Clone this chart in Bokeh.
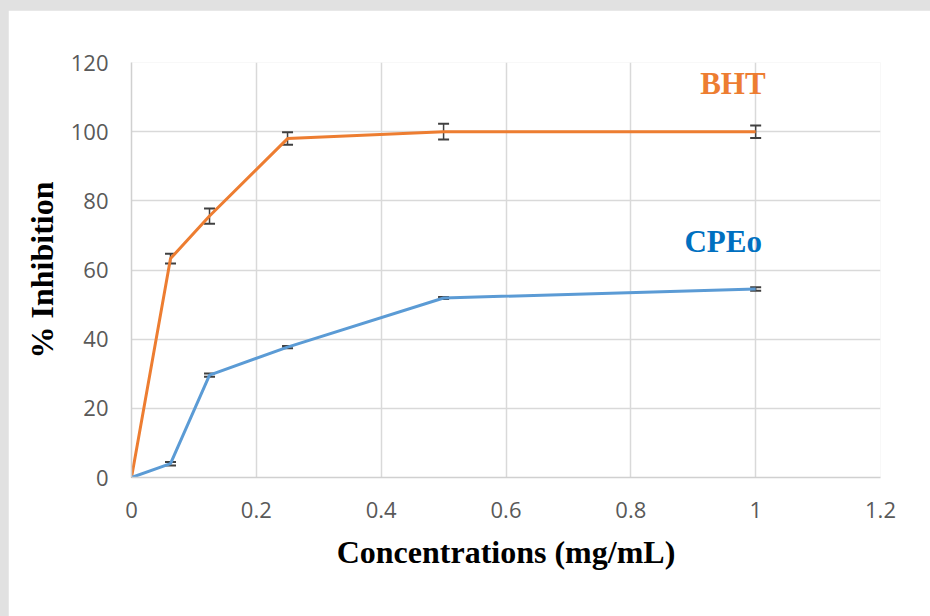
from bokeh.plotting import figure
from bokeh.models import ColumnDataSource, Whisker, FixedTicker, TeeHead, Range1d
from bokeh.core.properties import value
from bokeh.embed import file_html
from bokeh.resources import INLINE

conc = [0, 0.0625, 0.125, 0.25, 0.5, 1.0]
bht = [0, 63.3, 75.6, 98.0, 100.0, 100.0]
bht_err = [0, 1.4, 2.2, 1.8, 2.3, 1.8]
cpeo = [0, 4.0, 29.6, 37.7, 51.9, 54.5]
cpeo_err = [0, 0.5, 0.5, 0.3, 0.3, 0.5]
x_ticks = [0, 0.2, 0.4, 0.6, 0.8, 1.0, 1.2]
x_tick_labels = ["0", "0.2", "0.4", "0.6", "0.8", "1", "1.2"]
y_ticks = [0, 20, 40, 60, 80, 100, 120]

ORANGE = "#ED7D31"
BLUE = "#5B9BD5"
LABEL_BLUE = "#0070C0"

p = figure(width=922, height=606, output_backend="svg", toolbar_location=None,
           x_range=Range1d(0, 1.2), y_range=Range1d(0, 120),
           min_border_left=123, min_border_right=50, min_border_top=52, min_border_bottom=139)
p.outline_line_color = None
p.background_fill_color = "white"
p.border_fill_color = "white"

p.xaxis.ticker = FixedTicker(ticks=x_ticks)
p.yaxis.ticker = FixedTicker(ticks=y_ticks)
p.xaxis.major_label_overrides = {t: l for t, l in zip(x_ticks, x_tick_labels)}
for ax in (p.xaxis, p.yaxis):
    ax.axis_line_color = "#d0d0d0"
    ax.axis_line_width = 1.5
    ax.major_tick_line_color = None
    ax.minor_tick_line_color = None
    ax.major_label_text_color = "#595959"
    ax.major_label_text_font = "Open Sans"
    ax.major_label_text_font_size = "22px"
    ax.axis_label_text_font = "Liberation Serif"
    ax.axis_label_text_font_style = "bold"
    ax.axis_label_text_font_size = "32px"
    ax.axis_label_text_color = "black"
p.xaxis.major_label_standoff = 18
p.yaxis.major_label_standoff = 17
p.xaxis.axis_label = "Concentrations (mg/mL)"
p.yaxis.axis_label = "% Inhibition"
p.xaxis.axis_label_standoff = 13
p.yaxis.axis_label_standoff = 8

p.xgrid.ticker = FixedTicker(ticks=x_ticks)
p.ygrid.ticker = FixedTicker(ticks=y_ticks)
for g in (p.xgrid, p.ygrid):
    g.grid_line_color = "#d9d9d9"
    g.grid_line_width = 1.5

src_b = ColumnDataSource(dict(x=conc, y=bht,
                              lo=[v - e for v, e in zip(bht, bht_err)],
                              hi=[v + e for v, e in zip(bht, bht_err)]))
src_c = ColumnDataSource(dict(x=conc, y=cpeo,
                              lo=[v - e for v, e in zip(cpeo, cpeo_err)],
                              hi=[v + e for v, e in zip(cpeo, cpeo_err)]))

p.line("x", "y", source=src_b, line_color=ORANGE, line_width=3)
p.line("x", "y", source=src_c, line_color=BLUE, line_width=3)

for src in (src_b, src_c):
    w = Whisker(source=src, base="x", lower="lo", upper="hi",
                line_color="#404040", line_width=1.5,
                upper_head=TeeHead(size=11, line_color="#404040", line_width=2),
                lower_head=TeeHead(size=11, line_color="#404040", line_width=2))
    p.add_layout(w)

p.text(x=[1.016], y=[114.0], text=["BHT"], text_color=ORANGE,
       text_font=value("Liberation Serif"), text_font_style="bold",
       text_font_size="31px", text_align="right", text_baseline="alphabetic")
p.text(x=[1.010], y=[68.2], text=["CPEo"], text_color=LABEL_BLUE,
       text_font=value("Liberation Serif"), text_font_style="bold",
       text_font_size="31px", text_align="right", text_baseline="alphabetic")

html = file_html(p, INLINE)
style = "<style>html,body{background:#e1e1e1;} body{margin:10px 0 0 8px !important;}</style>"
html = html.replace("</head>", style + "</head>", 1)
open("out.html", "w").write(html)
